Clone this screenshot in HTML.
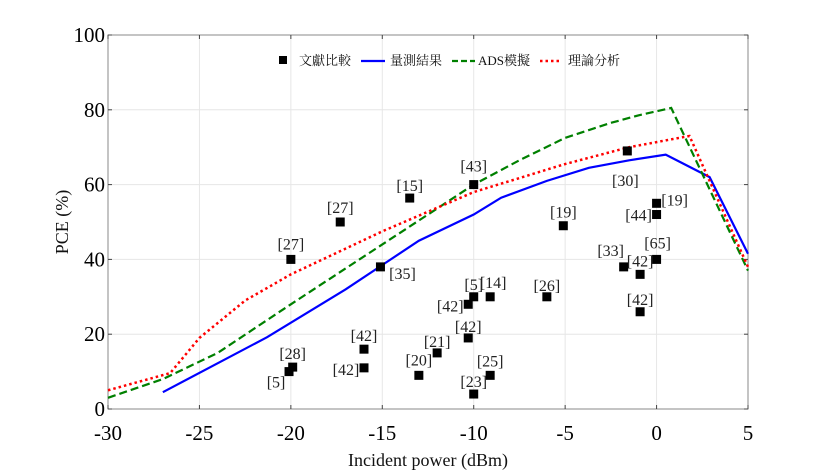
<!DOCTYPE html>
<html><head><meta charset="utf-8"><style>
body{margin:0;background:#fff;}
svg{display:block;font-family:"Liberation Serif","Noto Serif CJK SC",serif;}
</style></head><body>
<svg id="c" width="827" height="472"></svg>
<script>
const xTicks=[-30,-25,-20,-15,-10,-5,0,5];
const yTicks=[0,20,40,60,80,100];
const measX=[-27,-21.3,-17,-15,-13,-10,-8.5,-6,-3.7,-1.5,0.5,2.9,5];
const measY=[4.5,19.2,32,38.5,45,52,56.5,61,64.5,66.5,68,62,41.5];
const adsX=[-30,-27,-24,-20,-15,-10,-7.5,-5,-2.5,-1,0.8,5];
const adsY=[3,8,15,28,44,60,66.5,72.5,76.5,78.5,80.5,37];
const theoX=[-30,-26.6,-25,-22.5,-20,-15,-10,-5,-1.5,1.8,5];
const theoY=[5,9.6,19,29,36,47.5,58,65.5,70,73,38];
const refLabels=["[27]","[27]","[15]","[43]","[35]","[19]","[30]","[19]","[44]","[65]","[33]","[42]","[42]","[26]","[5]","[14]","[42]","[42]","[21]","[42]","[42]","[20]","[25]","[23]","[28]","[5]"];
const refX=[-20,-17.3,-13.5,-10,-15.1,-5.1,-1.6,0,0,0,-1.8,-0.9,-0.9,-6,-10,-9.1,-10.3,-10.3,-12,-16,-16,-13,-9.1,-10,-19.9,-20.1];
const refY=[40,50,56.4,60,38,49,69,55,52,40,38,36,26,30,30,30,28,19,15,16,11,9,9,4,11.2,10];
// label placement offsets (px) — layout, not data
const labDX=[0,0,0,0,22,0,-2,18,-18,1,-13,0,0,0,0,3,-18,0,0,0,-18,0,0,0,0,-13];
const labDY=[-15,-14,-12,-18,7,-13,30,-3,1,-16,-16,-13,-12,-11,-12,-14,2,-11,-11,-13,2,-15,-14,-12,-13,11];

const NS="http://www.w3.org/2000/svg";
const svg=document.getElementById('c');
const L=108,R=748,T=35,B=409;
const xs=v=>L+(v+30)/35*(R-L);
const ys=v=>B-v/100*(B-T);
function mk(tag,attrs,parent){const e=document.createElementNS(NS,tag);for(const k in attrs)e.setAttribute(k,attrs[k]);(parent||svg).appendChild(e);return e;}

const grid=mk('g',{});


xTicks.forEach(t=>{const l=mk('line',{x1:xs(t),x2:xs(t),y1:T,y2:B,stroke:'#e6e6e6','stroke-width':1},grid);
});
yTicks.forEach(t=>{const l=mk('line',{x1:L,x2:R,y1:ys(t),y2:ys(t),stroke:'#e6e6e6','stroke-width':1},grid);
});

const frame=mk('path',{d:`M${L},${T}H${R}V${B}H${L}Z`,fill:'none',stroke:'#888','stroke-width':1});



xTicks.forEach(t=>{
 mk('line',{x1:xs(t),x2:xs(t),y1:B,y2:B-4,stroke:'#444'});
 mk('line',{x1:xs(t),x2:xs(t),y1:T,y2:T+4,stroke:'#444'});
 const tx=mk('text',{x:xs(t),y:B+31,'text-anchor':'middle','font-size':21,fill:'#000'});
 tx.textContent=t;
 
 
});
yTicks.forEach(t=>{
 mk('line',{x1:L,x2:L+4,y1:ys(t),y2:ys(t),stroke:'#444'});
 mk('line',{x1:R,x2:R-4,y1:ys(t),y2:ys(t),stroke:'#444'});
 const tx=mk('text',{x:L-3,y:ys(t)+7,'text-anchor':'end','font-size':21,fill:'#000'});
 tx.textContent=t;
 
 
});
const xt=mk('text',{x:(L+R)/2,y:466,'text-anchor':'middle','font-size':18,fill:'#111'});
xt.textContent='Incident power (dBm)';


const yt=mk('text',{x:0,y:0,'text-anchor':'middle','font-size':18,fill:'#111',transform:`translate(68,${(T+B)/2}) rotate(-90)`});
yt.textContent='PCE (%)';



function line(X,Y,color,dash,w){return mk('polyline',{points:X.map((x,i)=>xs(x)+','+ys(Y[i])).join(' '),fill:'none',stroke:color,'stroke-width':w,'stroke-dasharray':dash});}
const lm=line(measX,measY,'#0000ff','none',2.2);


const la=line(adsX,adsY,'#008000','8,4',2.2);


const lt=line(theoX,theoY,'#ff0000','2.5,3',2.5);



refX.forEach((x,i)=>{
 const r=mk('rect',{x:xs(x)-4.5,y:ys(refY[i])-4.5,width:9,height:9,fill:'#000'});
 
 
 const t=mk('text',{x:xs(x)+labDX[i],y:ys(refY[i])+labDY[i]+5,'text-anchor':'middle','font-size':16,fill:'#222'});
 t.textContent=refLabels[i];
 
 
});

const lg=mk('g',{'font-size':13,fill:'#111'});


mk('rect',{x:279,y:56,width:8,height:8,fill:'#000'},lg);
let t1=mk('text',{x:299,y:65},lg);t1.textContent='文獻比較';

mk('line',{x1:361,x2:385,y1:61,y2:61,stroke:'#0000ff','stroke-width':2.2},lg);
let t2=mk('text',{x:390,y:65},lg);t2.textContent='量測結果';

mk('line',{x1:452,x2:475,y1:61,y2:61,stroke:'#008000','stroke-width':2.2,'stroke-dasharray':'6,3'},lg);
let t3=mk('text',{x:478,y:65},lg);t3.textContent='ADS模擬';

mk('line',{x1:540,x2:562,y1:61,y2:61,stroke:'#ff0000','stroke-width':2.5,'stroke-dasharray':'2.5,3'},lg);
let t4=mk('text',{x:568,y:65},lg);t4.textContent='理論分析';

</script>
</body></html>
